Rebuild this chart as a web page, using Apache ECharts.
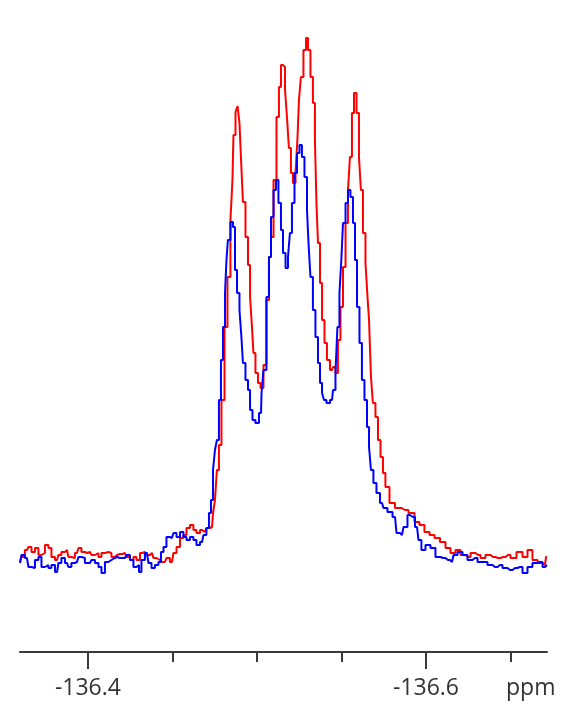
<!DOCTYPE html>
<html>
<head>
<meta charset="utf-8">
<script src="https://cdn.jsdelivr.net/npm/echarts@6/dist/echarts.min.js"></script>
<style>
  html, body { margin: 0; padding: 0; background: #fff; }
  #main { width: 567px; height: 720px; }
</style>
</head>
<body>
<div id="main"></div>
<script>
// chemical shift (ppm) and intensity (arb. units)
var redPpm = [-136.3598, -136.3615, -136.3639, -136.3657, -136.3675, -136.3698, -136.3716, -136.3734, -136.3757, -136.3775,
  -136.3793, -136.3817, -136.3834, -136.3852, -136.3876, -136.3893, -136.3911, -136.3935, -136.3953, -136.3970,
  -136.3994, -136.4012, -136.4030, -136.4053, -136.4071, -136.4089, -136.4112, -136.4130, -136.4148, -136.4172,
  -136.4189, -136.4219, -136.4237, -136.4260, -136.4278, -136.4296, -136.4320, -136.4337, -136.4355, -136.4379,
  -136.4396, -136.4414, -136.4438, -136.4456, -136.4473, -136.4497, -136.4515, -136.4533, -136.4556, -136.4574,
  -136.4592, -136.4615, -136.4633, -136.4651, -136.4675, -136.4692, -136.4710, -136.4734, -136.4746, -136.4757,
  -136.4769, -136.4781, -136.4799, -136.4817, -136.4834, -136.4852, -136.4858, -136.4864, -136.4882, -136.4888,
  -136.4905, -136.4911, -136.4923, -136.4941, -136.4953, -136.4965, -136.4976, -136.4982, -136.5000, -136.5012,
  -136.5030, -136.5047, -136.5065, -136.5077, -136.5089, -136.5107, -136.5124, -136.5136, -136.5148, -136.5160,
  -136.5172, -136.5183, -136.5195, -136.5207, -136.5219, -136.5237, -136.5243, -136.5254, -136.5266, -136.5284,
  -136.5296, -136.5308, -136.5325, -136.5337, -136.5349, -136.5355, -136.5367, -136.5379, -136.5391, -136.5408,
  -136.5420, -136.5444, -136.5456, -136.5473, -136.5485, -136.5503, -136.5515, -136.5533, -136.5544, -136.5556,
  -136.5568, -136.5580, -136.5598, -136.5609, -136.5621, -136.5633, -136.5651, -136.5657, -136.5669, -136.5680,
  -136.5692, -136.5710, -136.5722, -136.5740, -136.5751, -136.5769, -136.5799, -136.5834, -136.5876, -136.5917,
  -136.5947, -136.5976, -136.6006, -136.6036, -136.6065, -136.6101, -136.6130, -136.6160, -136.6189, -136.6219,
  -136.6249, -136.6278, -136.6308, -136.6337, -136.6367, -136.6396, -136.6426, -136.6456, -136.6485, -136.6515,
  -136.6556, -136.6586, -136.6615, -136.6645, -136.6675, -136.6704, -136.6716];
var redVal = [-2, 3, 10, 13, 8, 12, 5, 7, 15, 12,
  3, 0, 5, 8, 10, 3, 2, 7, 12, 8,
  7, 8, 5, 7, 3, 7, 8, 7, 3, 5,
  6, 7, 3, 0, 3, 0, 7, 8, 5, 7,
  2, 0, -2, -2, 2, -2, 7, 13, 22, 25,
  32, 35, 30, 27, 30, 28, 32, 33, 47, 60,
  90, 115, 160, 233, 283, 340, 380, 425, 448, 454,
  437, 392, 358, 323, 295, 263, 233, 207, 187, 177,
  172, 195, 260, 303, 323, 380, 443, 473, 495, 493,
  470, 443, 412, 387, 377, 387, 423, 460, 483, 510,
  522, 510, 483, 457, 420, 357, 317, 277, 240, 217,
  200, 190, 193, 187, 220, 253, 293, 337, 370, 403,
  447, 467, 447, 403, 370, 327, 297, 263, 240, 183,
  157, 143, 120, 103, 87, 73, 57, 52, 50, 47,
  38, 35, 28, 25, 22, 18, 12, 7, 10, 5,
  3, 7, 5, 2, 5, 3, 2, 3, 5, 2,
  8, 3, 10, 0, -3, -5, 3];

var bluePpm = [-136.3598, -136.3615, -136.3639, -136.3657, -136.3675, -136.3698, -136.3716, -136.3734, -136.3757, -136.3775,
  -136.3793, -136.3817, -136.3834, -136.3852, -136.3876, -136.3893, -136.3911, -136.3935, -136.3953, -136.3970,
  -136.3994, -136.4012, -136.4030, -136.4053, -136.4071, -136.4089, -136.4112, -136.4130, -136.4148, -136.4172,
  -136.4189, -136.4219, -136.4237, -136.4260, -136.4278, -136.4296, -136.4308, -136.4325, -136.4349, -136.4367,
  -136.4385, -136.4408, -136.4426, -136.4438, -136.4456, -136.4473, -136.4497, -136.4515, -136.4533, -136.4556,
  -136.4574, -136.4592, -136.4615, -136.4633, -136.4651, -136.4675, -136.4692, -136.4710, -136.4722, -136.4734,
  -136.4746, -136.4757, -136.4769, -136.4781, -136.4793, -136.4805, -136.4817, -136.4822, -136.4834, -136.4852,
  -136.4864, -136.4876, -136.4888, -136.4905, -136.4911, -136.4923, -136.4941, -136.4953, -136.4965, -136.4982,
  -136.5000, -136.5024, -136.5030, -136.5047, -136.5065, -136.5077, -136.5089, -136.5107, -136.5118, -136.5136,
  -136.5148, -136.5160, -136.5178, -136.5189, -136.5201, -136.5213, -136.5231, -136.5243, -136.5260, -136.5272,
  -136.5290, -136.5302, -136.5308, -136.5325, -136.5337, -136.5355, -136.5367, -136.5379, -136.5391, -136.5402,
  -136.5420, -136.5444, -136.5456, -136.5473, -136.5479, -136.5497, -136.5503, -136.5515, -136.5533, -136.5544,
  -136.5562, -136.5574, -136.5586, -136.5598, -136.5615, -136.5627, -136.5645, -136.5657, -136.5669, -136.5680,
  -136.5698, -136.5716, -136.5740, -136.5757, -136.5787, -136.5817, -136.5834, -136.5858, -136.5876, -136.5905,
  -136.5923, -136.5947, -136.5964, -136.5982, -136.6012, -136.6041, -136.6071, -136.6101, -136.6130, -136.6154,
  -136.6172, -136.6201, -136.6231, -136.6260, -136.6290, -136.6320, -136.6349, -136.6379, -136.6408, -136.6438,
  -136.6467, -136.6497, -136.6527, -136.6556, -136.6586, -136.6615, -136.6645, -136.6675, -136.6704, -136.6716];
var blueVal = [-3, 5, 2, -7, -8, 0, 3, -7, -5, -8,
  -5, -12, -3, 2, -3, -7, -3, -2, 3, 2,
  -3, -3, 0, -3, -7, -13, -2, 0, 2, 3,
  2, 2, 5, 0, -7, -5, -12, 0, 7, -3,
  -8, -5, -2, 8, 13, 23, 22, 27, 23, 28,
  23, 20, 23, 20, 15, 18, 25, 32, 47, 60,
  90, 110, 120, 160, 200, 233, 267, 300, 320, 338,
  333, 290, 267, 250, 223, 197, 180, 170, 150, 140,
  137, 147, 167, 190, 263, 303, 343, 370, 380, 357,
  330, 307, 292, 303, 327, 357, 387, 407, 415, 403,
  383, 350, 317, 283, 250, 223, 197, 177, 167, 160,
  157, 160, 170, 187, 233, 267, 303, 337, 357, 370,
  363, 337, 300, 253, 217, 180, 160, 133, 113, 90,
  77, 67, 57, 52, 48, 43, 27, 25, 33, 45,
  43, 33, 20, 10, 15, 12, 3, 2, 0, -2,
  5, 8, 5, 0, 2, -2, -2, -5, -7, -5,
  -8, -10, -8, -7, -13, -7, -3, -2, -7, -5];

var majorTicks = [-136.4, -136.6];
var minorTicks = [-136.45, -136.5, -136.55, -136.65];

function pairs(xs, ys) {
  return xs.map(function (x, i) { return [x, ys[i]]; });
}

var chartDom = document.getElementById('main');
var myChart = echarts.init(chartDom);
var option;

var axisRange = { min: -136.6716, max: -136.3598 };

option = {
  animation: false,
  grid: { left: 20, right: 20, top: 0, bottom: 68 },
  xAxis: [{
    type: 'value',
    position: 'bottom',
    inverse: true,
    min: axisRange.min,
    max: axisRange.max,
    splitLine: { show: false },
    axisLine: { show: true, onZero: false, lineStyle: { color: '#3a3a3a', width: 2 } },
    axisTick: {
      show: true,
      customValues: majorTicks,
      length: 17,
      lineStyle: { color: '#3a3a3a', width: 2 }
    },
    axisLabel: {
      customValues: majorTicks,
      margin: 25,
      color: '#333',
      fontFamily: 'Open Sans',
      fontSize: 23
    }
  }, {
    type: 'value',
    position: 'bottom',
    offset: 0,
    inverse: true,
    min: axisRange.min,
    max: axisRange.max,
    splitLine: { show: false },
    axisLine: { show: false, onZero: false },
    axisTick: {
      show: true,
      customValues: minorTicks,
      length: 10,
      lineStyle: { color: '#3a3a3a', width: 2 }
    },
    axisLabel: { show: false }
  }],
  yAxis: {
    type: 'value',
    min: -92,
    max: 560,
    show: false
  },
  graphic: [{
    type: 'text',
    left: 506,
    top: 677,
    style: { text: 'ppm', fill: '#333', font: '23px "Open Sans"' }
  }],
  series: [{
    type: 'line',
    step: 'middle',
    showSymbol: false,
    data: pairs(redPpm, redVal),
    lineStyle: { color: '#ff0000', width: 2 }
  }, {
    type: 'line',
    step: 'middle',
    showSymbol: false,
    data: pairs(bluePpm, blueVal),
    lineStyle: { color: '#0000ff', width: 2 }
  }]
};

option && myChart.setOption(option);
</script>
</body>
</html>
